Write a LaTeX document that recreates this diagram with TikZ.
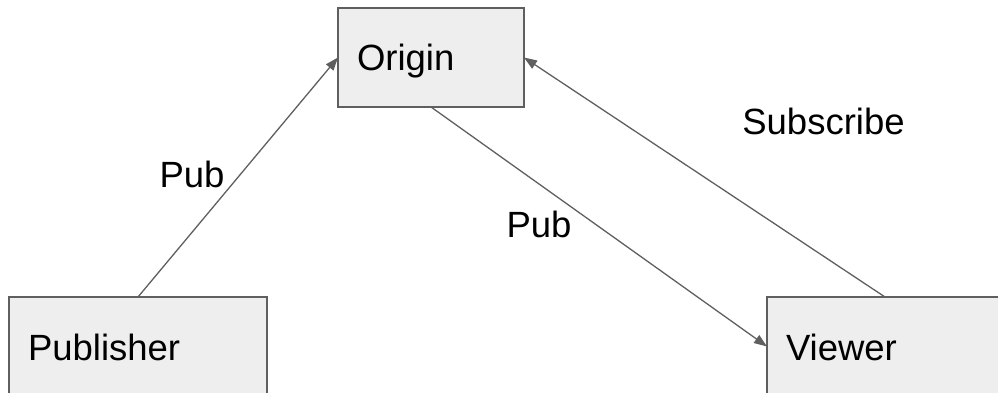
\documentclass[tikz,border=0pt]{standalone}
\usepackage{fontspec}
\setmainfont{Liberation Sans}
\usetikzlibrary{arrows.meta,calc}
\definecolor{boxfill}{HTML}{EEEEEE}
\definecolor{edge}{HTML}{5F5F5F}
\tikzset{
  box/.style={draw=edge, fill=boxfill, line width=1.4pt, anchor=north west,
    inner xsep=19pt, inner ysep=0pt, outer sep=0pt, align=left,
    text height=63pt, text depth=36pt,
    font=\fontsize{36.5}{43}\selectfont},
  link/.style={draw=edge, line width=1.3pt,
    -{Triangle[length=13pt, width=9.5pt]}},
  tag/.style={anchor=base, inner sep=0pt, font=\fontsize{36.5}{43}\selectfont}
}
\begin{document}
\begin{tikzpicture}[x=1pt, y=-1pt]
  \path[use as bounding box, clip] (0,0) rectangle (998,393);

  % boxes (publisher and viewer run off the page edges)
  \node[box, text width=148pt] (origin) at (338,8) {Origin};
  \node[box, text width=220pt] (pub) at (9,297) {Publisher};
  \node[box, text width=260pt] (viewer) at (767,297) {Viewer};

  % connectors
  \draw[link] (pub.north) -- (origin.west);
  \draw[link] (origin.south) -- (viewer.west);
  \draw[link] ($(viewer.north west)+(118,0)$) -- (origin.east);

  % connector labels
  \node[tag] (lpub1) at (192,187) {Pub};
  \node[tag] (lpub2) at (539,237) {Pub};
  \node[tag] (lsub) at (823.5,135) {Subscribe};
\end{tikzpicture}
\end{document}
